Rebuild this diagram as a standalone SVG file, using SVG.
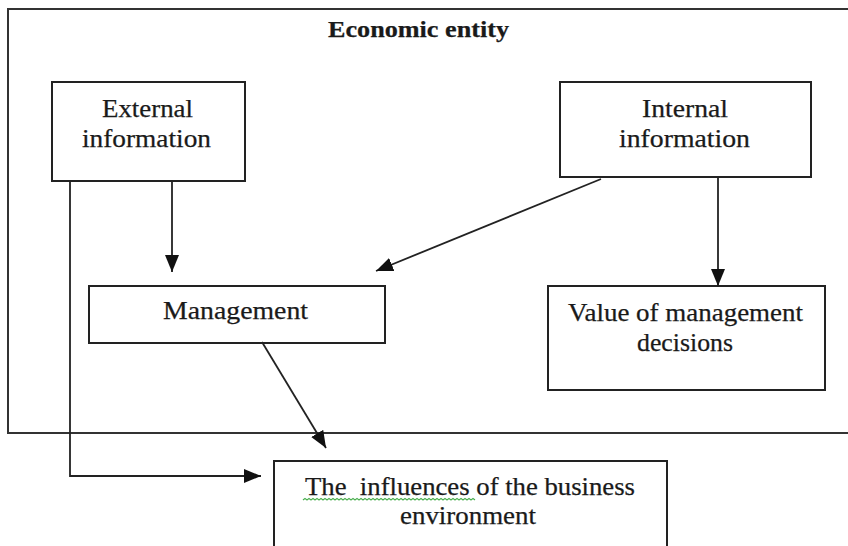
<svg xmlns="http://www.w3.org/2000/svg" width="848" height="546" viewBox="0 0 848 546">
<style>
.box{fill:#fff;stroke:#222;stroke-width:2}
.frame{fill:none;stroke:#333;stroke-width:2}
.t{font-family:"Liberation Serif","Times New Roman",serif;font-size:25px;fill:#1a1a1a;stroke:#1a1a1a;stroke-width:0.25;text-anchor:middle}
.title{font-weight:bold;font-size:24px}
.conn{fill:none;stroke:#222;stroke-width:1.8}
.squig{fill:none;stroke:#4caf50;stroke-width:1.2}
</style>
<defs>
<marker id="arr" markerUnits="userSpaceOnUse" markerWidth="18" markerHeight="15" refX="17" refY="7" orient="auto">
<path d="M0,0 L17,7 L0,14 z" fill="#111"/>
</marker>
</defs>
<rect width="848" height="546" fill="#fff"/>
<g id="economic-entity">
<path class="frame" d="M848,9 H8 V433 H848"/>
<text class="t title" x="418.5" y="37" textLength="181" lengthAdjust="spacingAndGlyphs">Economic entity</text>
</g>
<g id="external-information">
<rect class="box" x="52" y="82" width="193" height="99"/>
<text class="t" x="147.5" y="117" textLength="91" lengthAdjust="spacingAndGlyphs">External</text>
<text class="t" x="146.5" y="147" textLength="129" lengthAdjust="spacingAndGlyphs">information</text>
</g>
<g id="internal-information">
<rect class="box" x="560" y="82" width="251" height="95"/>
<text class="t" x="685" y="117" textLength="86" lengthAdjust="spacingAndGlyphs">Internal</text>
<text class="t" x="684.5" y="147" textLength="131" lengthAdjust="spacingAndGlyphs">information</text>
</g>
<g id="management">
<rect class="box" x="89" y="286" width="296" height="57"/>
<text class="t" x="235.5" y="319" textLength="145" lengthAdjust="spacingAndGlyphs">Management</text>
</g>
<g id="value-of-management-decisions">
<rect class="box" x="548" y="286" width="277" height="104"/>
<text class="t" x="685.5" y="321" textLength="235" lengthAdjust="spacingAndGlyphs">Value of management</text>
<text class="t" x="685" y="351" textLength="96" lengthAdjust="spacingAndGlyphs">decisions</text>
</g>
<g id="business-environment">
<rect class="box" x="274" y="461" width="393" height="100"/>
<text class="t" x="470" y="495" textLength="330" lengthAdjust="spacingAndGlyphs" xml:space="preserve">The  influences of the business</text>
<text class="t" x="468" y="524" textLength="136" lengthAdjust="spacingAndGlyphs">environment</text>
<path class="squig" d="M303,500 l2,-1.6 l2,1.6 l2,-1.6 l2,1.6 l2,-1.6 l2,1.6 l2,-1.6 l2,1.6 l2,-1.6 l2,1.6 l2,-1.6 l2,1.6 l2,-1.6 l2,1.6 l2,-1.6 l2,1.6 l2,-1.6 l2,1.6 l2,-1.6 l2,1.6 l2,-1.6 l2,1.6 l2,-1.6 l2,1.6 l2,-1.6 l2,1.6 l2,-1.6 l2,1.6 l2,-1.6 l2,1.6 l2,-1.6 l2,1.6 l2,-1.6 l2,1.6 l2,-1.6 l2,1.6 l2,-1.6 l2,1.6 l2,-1.6 l2,1.6 l2,-1.6 l2,1.6 l2,-1.6 l2,1.6 l2,-1.6 l2,1.6 l2,-1.6 l2,1.6 l2,-1.6 l2,1.6 l2,-1.6 l2,1.6 l2,-1.6 l2,1.6 l2,-1.6 l2,1.6 l2,-1.6 l2,1.6 l2,-1.6 l2,1.6 l2,-1.6 l2,1.6 l2,-1.6 l2,1.6 l2,-1.6 l2,1.6 l2,-1.6 l2,1.6 l2,-1.6 l2,1.6 l2,-1.6 l2,1.6 l2,-1.6 l2,1.6 l2,-1.6 l2,1.6 l2,-1.6 l2,1.6 l2,-1.6 l2,1.6 l2,-1.6 l2,1.6 l2,-1.6 l2,1.6 l2,-1.6 l2,1.6"/>
</g>
<g id="connectors">
<path class="conn" d="M70,181 V476 H261" marker-end="url(#arr)"/>
<path class="conn" d="M172,181 V272" marker-end="url(#arr)"/>
<path class="conn" d="M601,179 L376,271" marker-end="url(#arr)"/>
<path class="conn" d="M718,178 V286" marker-end="url(#arr)"/>
<path class="conn" d="M262,342 L326,448" marker-end="url(#arr)"/>
</g>
</svg>
